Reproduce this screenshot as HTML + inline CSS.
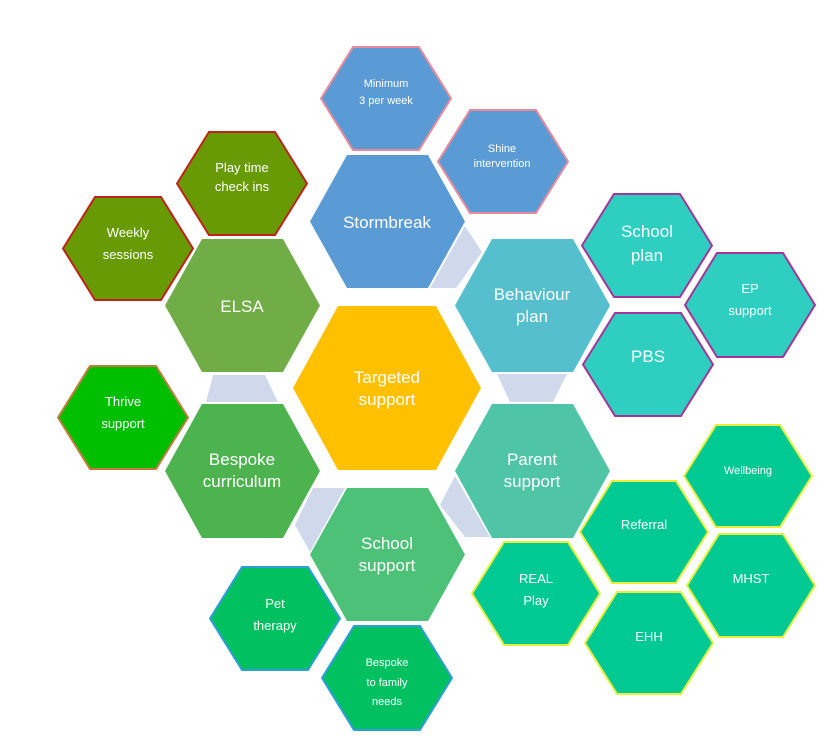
<!DOCTYPE html>
<html><head><meta charset="utf-8"><style>
html,body{margin:0;padding:0;background:#fff;}
svg{display:block;}
text{font-family:"Liberation Sans",sans-serif;fill:#fff;text-anchor:middle;}
.L{font-size:17px;}
.S{font-size:13px;}
.X{font-size:11px;}
</style></head><body>
<svg width="830" height="743" viewBox="0 0 830 743" xmlns="http://www.w3.org/2000/svg">
<rect width="830" height="743" fill="#fff"/>
<g fill="#CFD9EB">
<polygon points="213,375 265,375 278,402 206,402"/>
<polygon points="497,374 567,374 553,402 510,402"/>
<polygon points="465,226 482,252 456,288 430,288"/>
<polygon points="440,505 455,476 490,537 465,537"/>
<polygon points="313,488 345,488 310,552 295,525"/>
</g>
<polygon points="293,388 338,306 436,306 481,388 436,470 338,470" fill="#FFC000"/>
<polygon points="310,221.5 347,155 428,155 465,221.5 428,288 347,288" fill="#5B9BD5"/>
<polygon points="455,305.5 492,239 573,239 610,305.5 573,372 492,372" fill="#55BFCD"/>
<polygon points="455,471 492,404 573,404 610,471 573,538 492,538" fill="#50C4A6"/>
<polygon points="310,554.5 347,488 428,488 465,554.5 428,621 347,621" fill="#4CC177"/>
<polygon points="165,471 202,404 283,404 320,471 283,538 202,538" fill="#4DB34F"/>
<polygon points="165,305.5 202,239 283,239 320,305.5 283,372 202,372" fill="#70AD47"/>
<g stroke-width="2">
<polygon points="321,98.5 353,47 419,47 451,98.5 419,150 353,150" fill="#5B9BD5" stroke="#E98A9A"/>
<polygon points="438,161.5 470,110 536,110 568,161.5 536,213 470,213" fill="#5B9BD5" stroke="#E98A9A"/>
<polygon points="177,183.5 209,132 275,132 307,183.5 275,235 209,235" fill="#679A05" stroke="#C0221A"/>
<polygon points="63,248.5 95,197 161,197 193,248.5 161,300 95,300" fill="#679A05" stroke="#C0221A"/>
<polygon points="58,417.5 90,366 156,366 188,417.5 156,469 90,469" fill="#00BF00" stroke="#C67A3A"/>
<polygon points="582,245.5 614,194 680,194 712,245.5 680,297 614,297" fill="#2ECFC0" stroke="#A3359A"/>
<polygon points="685,305 717,253 783,253 815,305 783,357 717,357" fill="#2ECFC0" stroke="#A3359A"/>
<polygon points="583,364.5 615,313 681,313 713,364.5 681,416 615,416" fill="#2ECFC0" stroke="#A3359A"/>
<polygon points="684,476 716,425 780,425 812,476 780,527 716,527" fill="#00C993" stroke="#E6F03A"/>
<polygon points="580,532 612,481 676,481 708,532 676,583 612,583" fill="#00C993" stroke="#E6F03A"/>
<polygon points="472,593.5 504,542 568,542 600,593.5 568,645 504,645" fill="#00C993" stroke="#E6F03A"/>
<polygon points="687,585.5 719,534 783,534 815,585.5 783,637 719,637" fill="#00C993" stroke="#E6F03A"/>
<polygon points="585,643 617,592 681,592 713,643 681,694 617,694" fill="#00C993" stroke="#E6F03A"/>
<polygon points="210,618.5 242,567 308,567 340,618.5 308,670 242,670" fill="#00C060" stroke="#2E9EDB"/>
<polygon points="322,678 354,626 420,626 452,678 420,730 354,730" fill="#00C060" stroke="#2E9EDB"/>
</g>
<text class="L" x="387" y="383">Targeted</text><text class="L" x="387" y="405">support</text>
<text class="L" x="387" y="228">Stormbreak</text>
<text class="L" x="532" y="300">Behaviour</text><text class="L" x="532" y="322">plan</text>
<text class="L" x="532" y="465">Parent</text><text class="L" x="532" y="487">support</text>
<text class="L" x="387" y="549">School</text><text class="L" x="387" y="571">support</text>
<text class="L" x="242" y="465">Bespoke</text><text class="L" x="242" y="487">curriculum</text>
<text class="L" x="242" y="312">ELSA</text>
<text class="X" x="386" y="87">Minimum</text><text class="X" x="386" y="104">3 per week</text>
<text class="X" x="502" y="152">Shine</text><text class="X" x="502" y="167">intervention</text>
<text class="S" x="242" y="172">Play time</text><text class="S" x="242" y="191">check ins</text>
<text class="S" x="128" y="237">Weekly</text><text class="S" x="128" y="259">sessions</text>
<text class="S" x="123" y="406">Thrive</text><text class="S" x="123" y="428">support</text>
<text class="L" x="647" y="237">School</text><text class="L" x="647" y="261">plan</text>
<text class="S" x="750" y="293">EP</text><text class="S" x="750" y="315">support</text>
<text class="L" x="648" y="362">PBS</text>
<text class="X" x="748" y="474">Wellbeing</text>
<text class="S" x="644" y="529">Referral</text>
<text class="S" x="536" y="583">REAL</text><text class="S" x="536" y="605">Play</text>
<text class="S" x="751" y="583">MHST</text>
<text class="S" x="649" y="641">EHH</text>
<text class="S" x="275" y="608">Pet</text><text class="S" x="275" y="630">therapy</text>
<text class="X" x="387" y="666">Bespoke</text><text class="X" x="387" y="686">to family</text><text class="X" x="387" y="705">needs</text>
</svg>
</body></html>
